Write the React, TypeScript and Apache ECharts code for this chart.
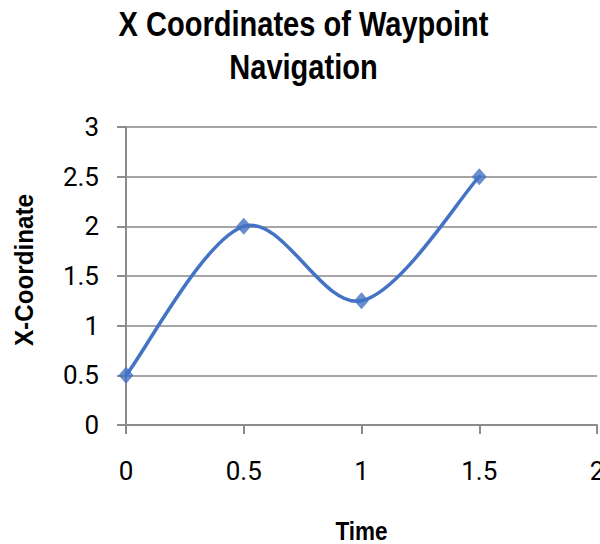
import React, { useEffect, useRef } from "react";
import * as echarts from "echarts";

const times = [0, 0.5, 1, 1.5];
const xCoordinates = [0.5, 2, 1.25, 2.5];
const titleLines = ["X Coordinates of Waypoint", "Navigation"];
const xAxisName = "Time";
const yAxisName = "X-Coordinate";

const BLUE = "#4472C4";

export default function App() {
  const ref = useRef<HTMLDivElement>(null);
  useEffect(() => {
    if (!ref.current) return;
    const chart = echarts.init(ref.current, undefined, { renderer: "svg" });
    const points = times.map((t, i) => [t, xCoordinates[i]]);
    const n = points.length;

    const renderItem = (params: any, api: any) => {
      const i = params.dataIndex;
      if (i >= n - 1) return { type: "group", children: [] };
      const px = points.map((p) => api.coord(p));
      const p0 = px[Math.max(i - 1, 0)];
      const p1 = px[i];
      const p2 = px[i + 1];
      const p3 = px[Math.min(i + 2, n - 1)];
      const k = 1 / 6;
      return {
        type: "bezierCurve",
        shape: {
          x1: p1[0],
          y1: p1[1],
          x2: p2[0],
          y2: p2[1],
          cpx1: p1[0] + (p2[0] - p0[0]) * k,
          cpy1: p1[1] + (p2[1] - p0[1]) * k,
          cpx2: p2[0] - (p3[0] - p1[0]) * k,
          cpy2: p2[1] - (p3[1] - p1[1]) * k,
        },
        style: { stroke: BLUE, lineWidth: 3.5, fill: "none", lineCap: "round" },
      };
    };

    const titleFont = { fontFamily: "'Liberation Sans', Arial, sans-serif", fontWeight: "bold" };

    chart.setOption({
      animation: false,
      backgroundColor: "#ffffff",
      graphic: [
        {
          type: "text",
          x: 303.5,
          y: 24,
          scaleX: 0.83,
          style: {
            text: titleLines[0],
            ...titleFont,
            fontSize: 35,
            fill: "#000",
            textAlign: "center",
            textVerticalAlign: "middle",
          },
        },
        {
          type: "text",
          x: 303.5,
          y: 67,
          scaleX: 0.83,
          style: {
            text: titleLines[1],
            ...titleFont,
            fontSize: 35,
            fill: "#000",
            textAlign: "center",
            textVerticalAlign: "middle",
          },
        },
        {
          type: "text",
          x: 361.5,
          y: 531,
          scaleX: 0.9,
          style: {
            text: xAxisName,
            ...titleFont,
            fontSize: 25,
            fill: "#000",
            textAlign: "center",
            textVerticalAlign: "middle",
          },
        },
        {
          type: "text",
          x: 24,
          y: 270,
          rotation: Math.PI / 2,
          scaleX: 0.97,
          style: {
            text: yAxisName,
            ...titleFont,
            fontSize: 25,
            fill: "#000",
            textAlign: "center",
            textVerticalAlign: "middle",
          },
        },
      ],
      grid: {
        left: 126,
        right: 3,
        top: 127,
        bottom: 119,
        containLabel: false,
        outerBoundsMode: "none",
      },
      xAxis: {
        type: "value",
        min: 0,
        max: 2,
        interval: 0.5,
        axisLine: { show: true, lineStyle: { color: "#8c8c8c", width: 2 } },
        axisTick: { show: true, length: 9, lineStyle: { color: "#8c8c8c", width: 2 } },
        splitLine: { show: false },
        axisLabel: {
          margin: 33,
          fontFamily: "Roboto, sans-serif",
          fontSize: 26,
          color: "#000",
          showMaxLabel: true,
          showMinLabel: true,
          hideOverlap: false,
        },
      },
      yAxis: {
        type: "value",
        min: 0,
        max: 3,
        interval: 0.5,
        axisLine: { show: true, lineStyle: { color: "#8c8c8c", width: 2 } },
        axisTick: { show: true, length: 9, lineStyle: { color: "#8c8c8c", width: 2 } },
        splitLine: { show: true, lineStyle: { color: "#a6a6a6", width: 2 } },
        axisLabel: {
          margin: 27,
          fontFamily: "Roboto, sans-serif",
          fontSize: 26,
          color: "#000",
          padding: [5, 0, 0, 0],
        },
      },
      series: [
        {
          type: "custom",
          coordinateSystem: "cartesian2d",
          data: points,
          renderItem,
          clip: false,
          z: 2,
        },
        {
          type: "scatter",
          data: points,
          symbol: "diamond",
          symbolSize: [15, 17],
          itemStyle: { color: BLUE },
          z: 3,
        },
      ],
    });
    return () => chart.dispose();
  }, []);
  return <div ref={ref} style={{ width: 600, height: 544, position: "absolute", left: 0, top: 0 }} />;
}
